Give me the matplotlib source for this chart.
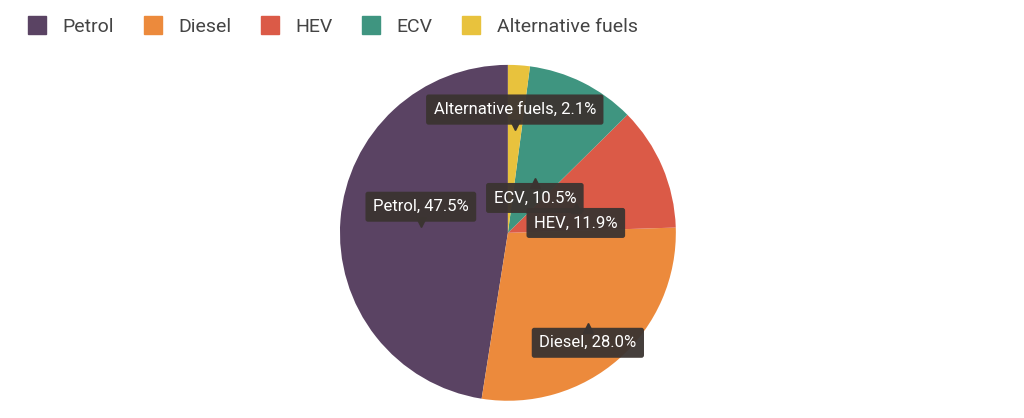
import numpy as np
import matplotlib.pyplot as plt
from matplotlib.lines import Line2D

plt.rcParams["font.family"] = ["Roboto", "DejaVu Sans"]

labels = ["Petrol", "Diesel", "HEV", "ECV", "Alternative fuels"]
shares = [47.5, 28.0, 11.9, 10.5, 2.1]
colors = ["#5a4363", "#ec8a3c", "#db5a47", "#3f9580", "#e8c23d"]
# per-slice tooltip anchor (radius fraction, pointer up/down)
label_radius = [0.52, 0.72, 0.44, 0.36, 0.62]
label_side = ["above", "below", "below", "below", "above"]

fig = plt.figure(figsize=(10.24, 4.18), dpi=100)
ax = fig.add_axes([0.332, 0.041, 0.328, 0.804])
wedges, _ = ax.pie(shares, colors=colors, startangle=90, counterclock=True,
                   wedgeprops=dict(linewidth=0))
ax.set_aspect("equal")
ax.set_xlim(-1, 1)
ax.set_ylim(-1, 1)

box_col = "#3b3431"
for w, lab, val, rf, side in zip(wedges, labels, shares, label_radius, label_side):
    mid = np.deg2rad((w.theta1 + w.theta2) / 2)
    x, y = rf * np.cos(mid), rf * np.sin(mid)
    if side == "above":
        ax.plot(x, y + 0.025, marker="v", color=box_col, markersize=7, zorder=4)
        ty, va = y + 0.07, "bottom"
    else:
        ax.plot(x, y - 0.025, marker="^", color=box_col, markersize=7, zorder=4)
        ty, va = y - 0.07, "top"
    ax.text(x, ty, f"{lab}, {val:.1f}%", ha="center", va=va, color="white",
            fontsize=12, zorder=5,
            bbox=dict(boxstyle="round,pad=0.45,rounding_size=0.15", fc=box_col,
                      ec="none", alpha=0.95))

handles = [Line2D([], [], marker="s", linestyle="none", markersize=13,
                  markerfacecolor=c, markeredgecolor=c) for c in colors]
fig.legend(handles, labels, loc="upper left", bbox_to_anchor=(0.0, 1.0), ncol=5,
           frameon=False, fontsize=14, handletextpad=0.3, columnspacing=1.0,
           labelcolor="#444444")

fig.savefig("out.png", dpi=100)
